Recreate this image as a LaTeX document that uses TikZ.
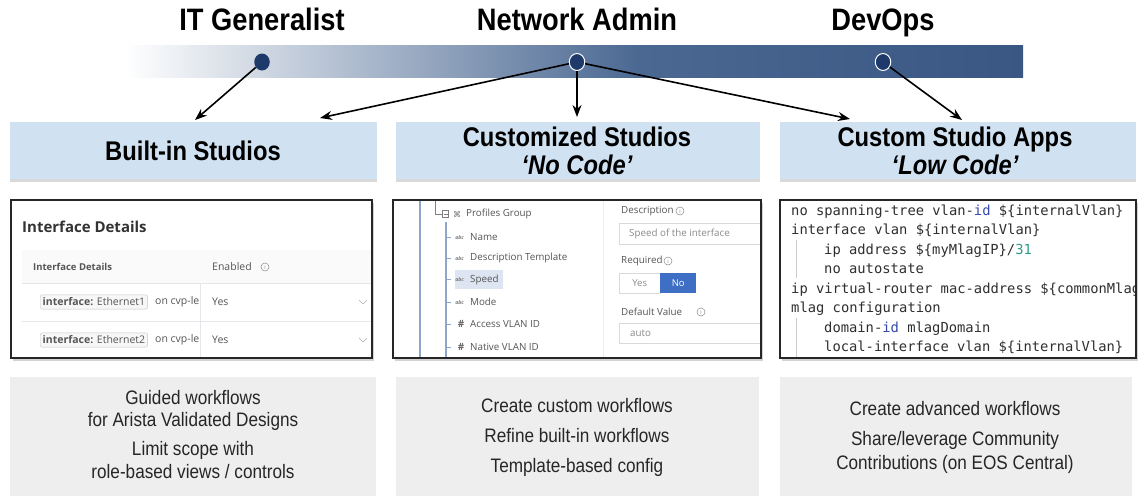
\documentclass[tikz,border=0pt]{standalone}
\usepackage{fontspec}
\setmainfont{Liberation Sans}
\newfontfamily\cond[FakeStretch=0.88]{Liberation Sans}
\newfontfamily\uifont{Open Sans}
\newfontfamily\monofont{DejaVu Sans Mono}
\newfontfamily\djv{DejaVu Sans}
\usetikzlibrary{arrows.meta,shadows,shapes.geometric}
\definecolor{navy}{HTML}{1D3A6B}
\definecolor{barR}{HTML}{3A5683}
\definecolor{barM}{HTML}{4A6892}
\definecolor{hdr}{HTML}{D0E2F2}
\definecolor{foot}{HTML}{EEEEEE}
\definecolor{tree}{HTML}{8FA5CB}
\definecolor{uigray}{HTML}{555555}
\definecolor{uilight}{HTML}{8A8A8A}
\definecolor{lineg}{HTML}{E6E6EA}
\definecolor{kw}{HTML}{3546B0}
\definecolor{num}{HTML}{2E9C8C}
\definecolor{codec}{HTML}{2F2F2F}
\definecolor{nobtn}{HTML}{3F6FC5}
\definecolor{hl}{HTML}{DDE5F2}
\begin{document}
\begin{tikzpicture}[x=1pt,y=-1pt,
  role/.style={font=\cond\bfseries\fontsize{31}{34}\selectfont, text=black, anchor=base, inner sep=0},
  dot/.style={ellipse, fill=navy, minimum width=15.5, minimum height=17, inner sep=0},
  ring/.style={dot, draw=white, line width=1pt},
  hdrbox/.style={fill=hdr, anchor=north west, inner sep=0, outer sep=0, minimum height=57,
     drop shadow={shadow xshift=0pt, shadow yshift=-3pt, opacity=0.3}},
  hdrtxt/.style={font=\cond\bfseries\fontsize{27}{30}\selectfont, anchor=base, inner sep=0},
  shot/.style={fill=white, anchor=north west, inner sep=0, outer sep=0, minimum height=158,
     drop shadow={shadow xshift=2pt, shadow yshift=-3pt, opacity=0.35}},
  frame/.style={draw=black!85, line width=1.4pt},
  footbox/.style={fill=foot, anchor=north west, inner sep=0, outer sep=0, minimum height=119},
  foottxt/.style={font=\cond\fontsize{19.5}{22}\selectfont, text=black!85, anchor=base, inner sep=0},
  arr/.style={-{Stealth[length=12pt,width=9pt]}, line width=1.6pt},
  code/.style={font=\monofont\fontsize{13.8}{16}\selectfont, text=codec, anchor=base west, inner sep=0},
  ui/.style={font=\uifont\fontsize{9.8}{11}\selectfont, text=uigray, anchor=west, inner sep=0},
  info/.style={circle, draw=uilight, line width=0.5pt, inner sep=0, minimum size=8,
     font=\uifont\fontsize{5.5}{6}\selectfont, text=uilight},
]
\useasboundingbox (0,0) rectangle (1138,496);

% ---------- role bar ----------
\shade[left color=white, right color=barM] (125,45) rectangle (640,77);
\shade[left color=barM, right color=barR] (640,45) rectangle (1023,77);

\node[role] (r1) at (262,30) {IT Generalist};
\node[role] (r2) at (577,30) {Network Admin};
\node[role] (r3) at (883,30) {DevOps};

\node[dot] (d1) at (262,62) {};
\node[ring] (d2) at (577,62) {};
\node[ring] (d3) at (883,62) {};

% ---------- header boxes ----------
\node[hdrbox, minimum width=367] (h1) at (10,122) {};
\node[hdrbox, minimum width=364] (h2) at (396,122) {};
\node[hdrbox, minimum width=356] (h3) at (780,122) {};

\node[hdrtxt] (h1t) at (193,160.5) {Built-in Studios};
\node[hdrtxt] (h2t) at (577,146.5) {Customized Studios};
\node[hdrtxt] (h2s) at (577,174.5) {\itshape ‘No Code’};
\node[hdrtxt] (h3t) at (955,146.5) {Custom Studio Apps};
\node[hdrtxt] (h3s) at (955,174.5) {\itshape ‘Low Code’};

% ---------- arrows ----------
\coordinate (e1) at (195,120);
\coordinate (e2) at (320,118);
\coordinate (e3) at (577,117);
\coordinate (e4) at (850,119);
\coordinate (e5) at (962,120);
\draw[arr] (d1) -- (e1);
\draw[arr] (d2) -- (e2);
\draw[arr] (d2) -- (e3);
\draw[arr] (d2) -- (e4);
\draw[arr] (d3) -- (e5);

% ---------- screenshots ----------
\node[shot, minimum width=361] (s1) at (11,200) {};
\node[shot, minimum width=368] (s2) at (393,200) {};
\node[shot, minimum width=356] (s3) at (780,200) {};

% screenshot 1
\begin{scope}
\clip (s1.north west) rectangle (s1.south east);
\fill[black!2] (22,250) rectangle (372,283);
\node[font=\uifont\bfseries\fontsize{15}{17}\selectfont, text=black!80, anchor=west, inner sep=0] (s1t) at (22,227) {Interface Details};
\node[ui, font=\uifont\bfseries\fontsize{9.5}{11}\selectfont] (s1h1) at (33,267) {Interface Details};
\node[ui, font=\uifont\fontsize{10.5}{12}\selectfont] (s1h2) at (212,267) {Enabled};
\node[info] (s1i) at (265,267) {i};
\draw[lineg, line width=0.8pt] (22,283) -- (372,283);
\draw[lineg, line width=0.8pt] (22,321) -- (372,321);
\draw[lineg, line width=0.8pt] (200,283) -- (200,358);
\foreach \yy/\nm [count=\k] in {302/1, 340/2}{
  \node[draw=black!22, rounded corners=2pt, fill=black!3, inner xsep=2.5pt, inner ysep=3pt, anchor=west,
        font=\uifont\fontsize{10.5}{12}\selectfont, text=uigray] (s1c\k) at (40,\yy) {\textbf{interface:} Ethernet\nm};
  \begin{scope}
    \clip (150,\yy-10) rectangle (198,\yy+10);
    \node[ui, font=\uifont\fontsize{10.5}{12}\selectfont] (s1o\k) at (155,\yy) {on cvp-leaf};
  \end{scope}
  \node[ui, font=\uifont\fontsize{10.5}{12}\selectfont] (s1y\k) at (212,\yy) {Yes};
  \draw[black!30, line width=0.6pt] (359,\yy-2) -- (363,\yy+2) -- (367,\yy-2);
}
\end{scope}
\draw[frame] (s1.north west) rectangle (s1.south east);

% screenshot 2
\begin{scope}
\clip (s2.north west) rectangle (s2.south east);
\draw[tree, line width=1.2pt] (420,200) -- (420,358);
\draw[black!50, line width=0.8pt] (435,200) -- (435,214) -- (442,214);
\node[draw=black!50, line width=0.6pt, minimum size=6.5, inner sep=0] (s2b) at (445.5,214) {};
\draw[black!50, line width=0.5pt] (443.5,214) -- (447.5,214);
\node[font=\djv\fontsize{8}{8}\selectfont, text=black!55, inner sep=0] (s2g) at (457,214) {⌘};
\node[ui] (s2p) at (466,214) {Profiles Group};
\draw[tree, line width=1.2pt] (446,222) -- (446,358);
\fill[hl] (455,270) rectangle (503,289);
\foreach \yy/\txt/\ic [count=\k] in {237/Name/a, 258/Description Template/a, 279.5/Speed/a, 302/Mode/a, 324/Access VLAN ID/h, 347/Native VLAN ID/h}{
  \draw[tree, line width=0.8pt] (446,\yy) -- (451,\yy);
  \if\ic a
    \node[font=\uifont\bfseries\itshape\fontsize{5}{5}\selectfont, text=black!55, inner sep=0] (s2i\k) at (459.5,\yy+0.5) {abc};
  \else
    \node[font=\uifont\bfseries\fontsize{10}{10}\selectfont, text=black!60, inner sep=0] (s2i\k) at (461,\yy) {\#};
  \fi
  \node[ui] (s2n\k) at (470,\yy) {\txt};
}
\draw[black!7, line width=0.8pt] (603,200) -- (603,358);
\node[ui] (s2d) at (621,211) {Description};
\node[info] (s2di) at (680,211) {i};
\node[draw=black!15, anchor=north west, minimum width=170, minimum height=21, inner sep=0] (s2db) at (619,223) {};
\node[ui, text=uilight] (s2dv) at (629,234) {Speed of the interface};
\node[ui] (s2r) at (621,261) {Required};
\node[info] (s2ri) at (668,261) {i};
\node[draw=black!15, anchor=north west, minimum width=41, minimum height=20, inner sep=0,
      font=\uifont\fontsize{9.5}{11}\selectfont, text=uilight] (s2yes) at (619,273) {Yes};
\node[fill=nobtn, anchor=north west, minimum width=36, minimum height=20, inner sep=0,
      font=\uifont\fontsize{9.5}{11}\selectfont, text=white] (s2no) at (660,273) {No};
\node[ui] (s2dv2) at (621,312) {Default Value};
\node[info] (s2vi) at (701,312) {i};
\node[draw=black!15, anchor=north west, minimum width=170, minimum height=20, inner sep=0] (s2ab) at (619,323) {};
\node[ui, text=uilight] (s2a) at (630,333) {auto};
\end{scope}
\draw[frame] (s2.north west) rectangle (s2.south east);

% screenshot 3
\begin{scope}
\clip (s3.north west) rectangle (s3.south east);
\draw[black!20, line width=0.8pt] (796,240) -- (796,278);
\draw[black!20, line width=0.8pt] (796,318) -- (796,358);
\node[code] (c1) at (791,215) {no spanning-tree vlan-\textcolor{kw}{id} \$\{internalVlan\}};
\node[code] (c2) at (791,234.5) {interface vlan \$\{internalVlan\}};
\node[code] (c3) at (824,254) {ip address \$\{myMlagIP\}/\textcolor{num}{31}};
\node[code] (c4) at (824,273.5) {no autostate};
\node[code] (c5) at (791,293) {ip virtual-router mac-address \$\{commonMlag};
\node[code] (c6) at (791,312.5) {mlag configuration};
\node[code] (c7) at (824,332) {domain-\textcolor{kw}{id} mlagDomain};
\node[code] (c8) at (824,351.5) {local-interface vlan \$\{internalVlan\}};
\node[code] (c9) at (824,371) {peer-address \$\{peerMlagIP\}};
\end{scope}
\draw[frame] (s3.north west) rectangle (s3.south east);

% ---------- footer boxes ----------
\node[footbox, minimum width=366] (f1) at (10,377) {};
\node[footbox, minimum width=363] (f2) at (396,377) {};
\node[footbox, minimum width=352] (f3) at (780,377) {};

\node[foottxt] (f1a) at (193,404) {Guided workflows};
\node[foottxt] (f1b) at (193,426) {for Arista Validated Designs};
\node[foottxt] (f1c) at (193,455) {Limit scope with};
\node[foottxt] (f1d) at (193,478) {role-based views / controls};

\node[foottxt] (f2a) at (577,412) {Create custom workflows};
\node[foottxt] (f2b) at (577,442) {Refine built-in workflows};
\node[foottxt] (f2c) at (577,472) {Template-based config};

\node[foottxt] (f3a) at (955,415) {Create advanced workflows};
\node[foottxt] (f3b) at (955,445) {Share/leverage Community};
\node[foottxt] (f3c) at (955,469) {Contributions (on EOS Central)};
\end{tikzpicture}
\end{document}
